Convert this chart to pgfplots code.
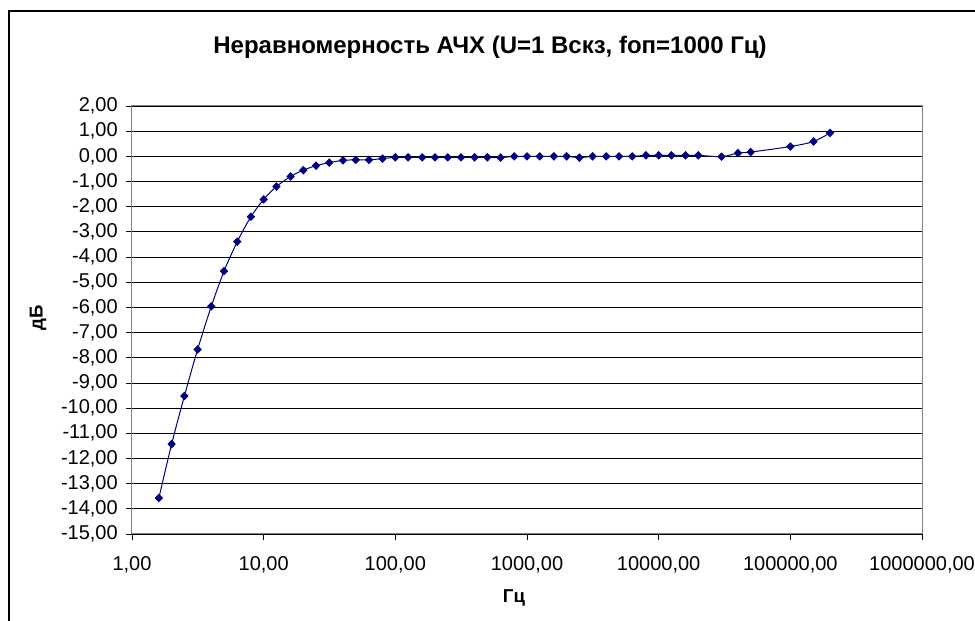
\documentclass[border=0pt]{standalone}
\usepackage{fontspec}
\setmainfont{Liberation Sans}
\usepackage{pgfplots}
\pgfplotsset{compat=1.18}
\definecolor{navy}{HTML}{000080}
\definecolor{exgray}{HTML}{808080}
\begin{document}
\begin{tikzpicture}
\begin{scope}[x=0.75pt,y=0.75pt]
\useasboundingbox (0,0) rectangle (975,621);
\draw[line width=1pt] (9,-30) -- (9,610) -- (1000,610);
\node[anchor=base, font=\fontsize{18}{21}\selectfont\bfseries] at (490,567) {Неравномерность АЧХ (U=1 Вскз, fоп=1000 Гц)};
\node[rotate=90, font=\fontsize{14}{17}\selectfont\bfseries] at (38,303) {дБ};
\node[font=\fontsize{14}{17}\selectfont\bfseries] at (514,23) {Гц};
\end{scope}
\begin{axis}[
  at={(99pt,65.25pt)}, anchor=south west,
  scale only axis, width=592.5pt, height=321pt,
  xmode=log, xmin=1, xmax=1000000, ymin=-15, ymax=2,
  xtick={1,10,100,1000,10000,100000,1000000},
  xticklabels={{1,00},{10,00},{100,00},{1000,00},{10000,00},{100000,00},{1000000,00}},
  ytick={-15,-14,-13,-12,-11,-10,-9,-8,-7,-6,-5,-4,-3,-2,-1,0,1,2},
  yticklabels={{-15,00},{-14,00},{-13,00},{-12,00},{-11,00},{-10,00},{-9,00},{-8,00},{-7,00},{-6,00},{-5,00},{-4,00},{-3,00},{-2,00},{-1,00},{0,00},{1,00},{2,00}},
  xminorticks=false, yminorticks=false,
  xtick pos=bottom, ytick pos=left,
  tick align=outside, major tick length=4.5pt,
  tick style={black, line width=0.6pt},
  ymajorgrids, grid style={black, line width=0.6pt},
  axis line style={exgray, line width=0.75pt},
  tick label style={font=\fontsize{15}{18}\selectfont},
  yticklabel style={inner sep=0pt, xshift=-6pt},
  xticklabel style={inner sep=0pt, yshift=-12pt},
]
\addplot[navy, line width=0.75pt, smooth, tension=0.5, mark=diamond*, mark size=2.7pt, mark options={xscale=1.3, solid, fill=navy}] table {
x y
1.6 -13.57
2 -11.43
2.5 -9.52
3.15 -7.67
4 -5.96
5 -4.56
6.3 -3.39
8 -2.40
10 -1.71
12.5 -1.20
16 -0.80
20 -0.55
25 -0.37
31.5 -0.25
40 -0.16
50 -0.14
63 -0.14
80 -0.09
100 -0.04
125 -0.04
160 -0.04
200 -0.04
250 -0.04
315 -0.04
400 -0.04
500 -0.04
630 -0.05
800 0.00
1000 0.00
1250 0.00
1600 0.00
2000 0.00
2500 -0.05
3150 0.00
4000 0.00
5000 0.00
6300 0.00
8000 0.04
10000 0.04
12500 0.04
16000 0.04
20000 0.04
30000 -0.01
40000 0.13
50000 0.17
100000 0.39
150000 0.59
200000 0.93
};
\end{axis}
\end{tikzpicture}
\end{document}
